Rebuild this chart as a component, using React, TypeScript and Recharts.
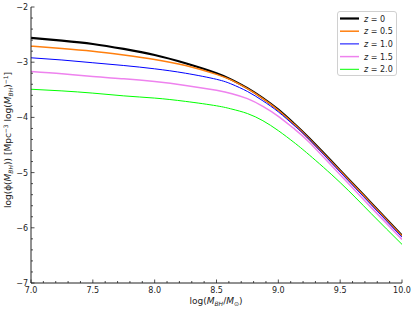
import React from "react";
import { LineChart, Line, XAxis, YAxis, Legend } from "recharts";

const MASS = [7.0, 7.25, 7.5, 7.75, 8.0, 8.25, 8.5, 8.625, 8.75, 8.875, 9.0, 9.125, 9.25, 9.5, 9.75, 10.0];
const PHI_Z0 = [-2.56, -2.61, -2.67, -2.76, -2.87, -3.02, -3.2, -3.32, -3.47, -3.65, -3.86, -4.11, -4.38, -4.96, -5.55, -6.14];
const PHI_Z05 = [-2.71, -2.75, -2.8, -2.87, -2.95, -3.06, -3.22, -3.33, -3.48, -3.66, -3.87, -4.12, -4.39, -4.97, -5.56, -6.15];
const PHI_Z10 = [-2.92, -2.96, -3.01, -3.06, -3.12, -3.2, -3.31, -3.4, -3.53, -3.7, -3.9, -4.14, -4.4, -4.99, -5.58, -6.17];
const PHI_Z15 = [-3.17, -3.21, -3.26, -3.3, -3.35, -3.42, -3.51, -3.57, -3.66, -3.8, -3.98, -4.2, -4.45, -5.04, -5.63, -6.21];
const PHI_Z20 = [-3.49, -3.52, -3.56, -3.61, -3.65, -3.71, -3.79, -3.85, -3.93, -4.06, -4.24, -4.45, -4.68, -5.18, -5.74, -6.3];

const SERIES_KEYS = ["z0", "z05", "z10", "z15", "z20"];
const SERIES_NAMES = ["0", "0.5", "1.0", "1.5", "2.0"];
const SERIES_COLORS = ["#000000", "#ff7f0e", "#0000ff", "#ee82ee", "#00ff00"];
const SERIES_WIDTHS = [2.2, 1.5, 1, 1.5, 1];

const X_TICKS = [7.0, 7.1, 7.2, 7.3, 7.4, 7.5, 7.6, 7.7, 7.8, 7.9, 8.0, 8.1, 8.2, 8.3, 8.4, 8.5, 8.6, 8.7, 8.8, 8.9, 9.0, 9.1, 9.2, 9.3, 9.4, 9.5, 9.6, 9.7, 9.8, 9.9, 10.0];
const X_MAJOR = [7.0, 7.5, 8.0, 8.5, 9.0, 9.5, 10.0];
const Y_TICKS = [-7, -6.8, -6.6, -6.4, -6.2, -6, -5.8, -5.6, -5.4, -5.2, -5, -4.8, -4.6, -4.4, -4.2, -4, -3.8, -3.6, -3.4, -3.2, -3, -2.8, -2.6, -2.4, -2.2, -2];
const Y_MAJOR = [-7, -6, -5, -4, -3, -2];

const DATA = MASS.map((m, i) => ({
  x: m,
  z0: PHI_Z0[i],
  z05: PHI_Z05[i],
  z10: PHI_Z10[i],
  z15: PHI_Z15[i],
  z20: PHI_Z20[i],
}));

const FONT = "DejaVu Sans, sans-serif";
const AX = "#222";
const MAJ = 3.5;
const MIN = 2;

const isMajor = (v: number, majors: number[]) => majors.some((m) => Math.abs(m - v) < 1e-6);

const BottomTick = (props: any) => {
  const { x, y, payload } = props;
  const major = isMajor(payload.value, X_MAJOR);
  return (
    <g>
      <line x1={x} x2={x} y1={y} y2={y - (major ? MAJ : MIN)} stroke={AX} strokeWidth={0.8} />
      {major && (
        <text x={x} y={y + 10} textAnchor="middle" fontSize={8} fontFamily={FONT} fill="#222">
          {payload.value.toFixed(1)}
        </text>
      )}
    </g>
  );
};

const TopTick = (props: any) => {
  const { x, y, payload } = props;
  const major = isMajor(payload.value, X_MAJOR);
  return <line x1={x} x2={x} y1={y} y2={y + (major ? MAJ : MIN)} stroke={AX} strokeWidth={0.8} />;
};

const LeftTick = (props: any) => {
  const { x, y, payload } = props;
  const major = isMajor(payload.value, Y_MAJOR);
  return (
    <g>
      <line x1={x} x2={x + (major ? MAJ : MIN)} y1={y} y2={y} stroke={AX} strokeWidth={0.8} />
      {major && (
        <text x={x - 3} y={y + 3} textAnchor="end" fontSize={8} fontFamily={FONT} fill="#222">
          {"\u2212" + Math.abs(payload.value)}
        </text>
      )}
    </g>
  );
};

const RightTick = (props: any) => {
  const { x, y, payload } = props;
  const major = isMajor(payload.value, Y_MAJOR);
  return <line x1={x} x2={x - (major ? MAJ : MIN)} y1={y} y2={y} stroke={AX} strokeWidth={0.8} />;
};

const XLabel = () => (
  <text x={216} y={304} textAnchor="middle" fontSize={9} fontFamily={FONT} fill="#222">
    log(
    <tspan fontStyle="italic">M</tspan>
    <tspan fontSize={6} fontStyle="italic" dy={2}>BH</tspan>
    <tspan dy={-2}>/</tspan>
    <tspan fontStyle="italic">M</tspan>
    <tspan fontSize={6} dy={2}>{"\u2299"}</tspan>
    <tspan dy={-2}>)</tspan>
  </text>
);

const YLabel = () => (
  <text
    x={0}
    y={0}
    transform="translate(11,140) rotate(-90)"
    textAnchor="middle"
    fontSize={9}
    fontFamily={FONT}
    fill="#222"
  >
    log(ϕ(
    <tspan fontStyle="italic">M</tspan>
    <tspan fontSize={6} fontStyle="italic" dy={2}>BH</tspan>
    <tspan dy={-2}>)) [Mpc</tspan>
    <tspan fontSize={6} dy={-3.5}>{"\u22123"}</tspan>
    <tspan dy={3.5}> log(</tspan>
    <tspan fontStyle="italic">M</tspan>
    <tspan fontSize={6} fontStyle="italic" dy={2}>BH</tspan>
    <tspan dy={-2}>)</tspan>
    <tspan fontSize={6} dy={-3.5}>{"\u22121"}</tspan>
    <tspan dy={3.5}>]</tspan>
  </text>
);

const LegendBox = () => (
  <div
    style={{
      width: 60,
      height: 65,
      border: "1px solid #d0d0d0",
      borderRadius: 3,
      background: "#fff",
      boxSizing: "border-box",
    }}
  >
    <svg width={58} height={63} style={{ display: "block" }}>
      {SERIES_KEYS.map((k, i) => {
        const cy = 6.5 + i * 12.7;
        return (
          <g key={k}>
            <line x1={2} x2={21} y1={cy} y2={cy} stroke={SERIES_COLORS[i]} strokeWidth={SERIES_WIDTHS[i]} />
            <text x={26} y={cy + 3} fontSize={8} fontFamily={FONT} fill="#222">
              <tspan fontStyle="italic">z</tspan>
              {" = " + SERIES_NAMES[i]}
            </text>
          </g>
        );
      })}
    </svg>
  </div>
);

export default function App() {
  return (
    <div style={{ position: "absolute", left: 0, top: 0, width: 415, height: 309, background: "#fff" }}>
      <LineChart width={415} height={309} data={DATA} margin={{ top: 7, right: 13, bottom: 0, left: 0 }}>
        <XAxis
          xAxisId="b"
          dataKey="x"
          type="number"
          domain={[7, 10]}
          ticks={X_TICKS}
          interval={0}
          allowDataOverflow
          height={26}
          tickSize={0}
          tickMargin={0}
          tickLine={false}
          axisLine={{ stroke: AX, strokeWidth: 1 }}
          tick={BottomTick}
          label={<XLabel />}
        />
        <XAxis
          xAxisId="t"
          orientation="top"
          dataKey="x"
          type="number"
          domain={[7, 10]}
          ticks={X_TICKS}
          interval={0}
          allowDataOverflow
          height={0}
          tickSize={0}
          tickMargin={0}
          tickLine={false}
          axisLine={{ stroke: AX, strokeWidth: 1 }}
          tick={TopTick}
        />
        <YAxis
          yAxisId="l"
          type="number"
          domain={[-7, -2]}
          ticks={Y_TICKS}
          interval={0}
          allowDataOverflow
          width={31}
          tickSize={0}
          tickMargin={0}
          tickLine={false}
          axisLine={{ stroke: AX, strokeWidth: 1 }}
          tick={LeftTick}
          label={<YLabel />}
        />
        <YAxis
          yAxisId="r"
          orientation="right"
          type="number"
          domain={[-7, -2]}
          ticks={Y_TICKS}
          interval={0}
          allowDataOverflow
          width={0}
          tickSize={0}
          tickMargin={0}
          tickLine={false}
          axisLine={{ stroke: AX, strokeWidth: 1 }}
          tick={RightTick}
        />
        {SERIES_KEYS.map((k, i) => (
          <Line
            key={k}
            xAxisId="b"
            yAxisId="l"
            dataKey={k}
            name={"z = " + SERIES_NAMES[i]}
            type="natural"
            stroke={SERIES_COLORS[i]}
            strokeWidth={SERIES_WIDTHS[i]}
            dot={false}
            activeDot={false}
            isAnimationActive={false}
          />
        ))}
        <Legend
          layout="vertical"
          align="center"
          verticalAlign="middle"
          content={<LegendBox />}
          wrapperStyle={{ position: "absolute", top: 11, left: 337, width: 60, height: 65 }}
        />
      </LineChart>
    </div>
  );
}
